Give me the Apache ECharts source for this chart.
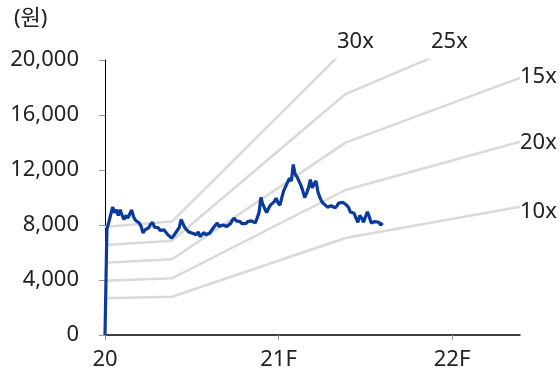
<!DOCTYPE html>
<html>
<head>
<meta charset="utf-8">
<script src="https://cdn.jsdelivr.net/npm/echarts@6/dist/echarts.min.js"></script>
<style>
	html, body { margin: 0; padding: 0; background: #fff; }
	#chart { width: 560px; height: 374px; }
</style>
</head>
<body>
<div id="chart"></div>
<script>
// x axis in days from start of 2020
var yearTicks = { 0: '20', 365: '21F', 730: '22F' };
var xMax = 873;

// band break points (days) and band values
var bandDays = [0, 141, 506, 873];
var band30 = [7880, 8250, 20800, 28000];
var band25 = [6545, 6860, 17525, 22900];
var band20 = [5260, 5505, 13990, 18700];
var band15 = [3950, 4124, 10545, 14060];
var band10 = [2670, 2785, 7055, 9330];
var bandNames = ['30x', '25x', '15x', '20x', '10x'];

// share price, one sample every 4 days
var priceStep = 4;
var priceValues = [
	0, 7700, 8200, 8100, 9300, 8900, 9100, 8700, 9100, 8700,
	8400, 8700, 8500, 8800, 9100, 8600, 8350, 8300, 8150, 7900,
	7420, 7650, 7550, 7800, 8050, 8200, 7850, 7950, 7800, 7600,
	7500, 7650, 7550, 7300, 7250, 7050, 7200, 7300, 7600, 7800,
	8400, 8500, 7800, 7650, 7500, 7600, 7400, 7350, 7300, 7500,
	7150, 7300, 7450, 7300, 7250, 7400, 7500, 7800, 7900, 8150,
	7900, 7850, 8000, 8050, 7900, 7850, 8100, 8350, 8500, 8300,
	8200, 8250, 8100, 8200, 8100, 8250, 8150, 8300, 8350, 8150,
	8500, 8900, 10000, 9500, 9200, 8900, 9200, 9450, 9500, 9700,
	9950, 9600, 9450, 10000, 10500, 10800, 11100, 11400, 11200, 12400,
	11700, 11500, 11200, 10900, 10500, 10000, 10300, 10700, 11300, 10700,
	11000, 11200, 10400, 10000, 9700, 9550, 9450, 9300, 9250, 9400,
	9350, 9250, 9400, 9600, 9500, 9650, 9600, 9450, 9300, 8950,
	9050, 8850, 8500, 8200, 8700, 8500, 8200, 8600, 8950, 8600,
	8150, 8200, 8250, 8350, 8200, 8000, 8150
];

var font = '"Noto Sans", "Noto Sans CJK KR", sans-serif';
var myChart = echarts.init(document.getElementById('chart'));

function bandSeries(vals) {
	return {
		type: 'line',
		data: bandDays.map(function (d, i) { return [d, vals[i]]; }),
		symbol: 'none',
		clip: true,
		silent: true,
		z: 1,
		lineStyle: { color: '#d9d9d9', width: 2.5 }
	};
}

function note(text, x, y) {
	return {
		type: 'text', x: x, y: y,
		style: { text: text, fontSize: 22, fill: '#222', fontFamily: font, verticalAlign: 'middle' }
	};
}

var option = {
	animation: false,
	textStyle: { fontFamily: font },
	grid: { left: 105, right: 40, top: 60, bottom: 39 },
	xAxis: {
		type: 'value',
		min: 0,
		max: xMax,
		interval: 365,
		splitLine: { show: false },
		axisLine: { lineStyle: { color: '#000', width: 1.5 } },
		axisTick: { show: true, length: 5, lineStyle: { color: '#999' } },
		axisLabel: {
			fontSize: 22,
			color: '#222',
			margin: 14,
			fontFamily: font,
			showMaxLabel: false,
			formatter: function (v) { return yearTicks[v] || ''; }
		}
	},
	yAxis: {
		type: 'value',
		min: 0,
		max: 20000,
		interval: 4000,
		splitLine: { show: false },
		axisLine: { show: true, lineStyle: { color: '#000', width: 1 } },
		axisTick: { show: true, length: 6, lineStyle: { color: '#999' } },
		axisLabel: {
			fontSize: 22,
			color: '#222',
			margin: 26,
			fontFamily: font,
			formatter: function (v) { return v.toLocaleString('en-US'); }
		}
	},
	graphic: [
		note('(원)', 14, 19),
		note(bandNames[0], 337, 42),
		note(bandNames[1], 431, 42),
		note(bandNames[2], 520, 77),
		note(bandNames[3], 520, 143),
		note(bandNames[4], 520, 212)
	],
	series: [
		bandSeries(band30),
		bandSeries(band25),
		bandSeries(band20),
		bandSeries(band15),
		bandSeries(band10),
		{
			type: 'line',
			data: priceValues.map(function (v, i) { return [i * priceStep, v]; }),
			symbol: 'none',
			z: 3,
			lineStyle: { color: '#0a3b9c', width: 3.2 }
		}
	]
};
myChart.setOption(option);
</script>
</body>
</html>
